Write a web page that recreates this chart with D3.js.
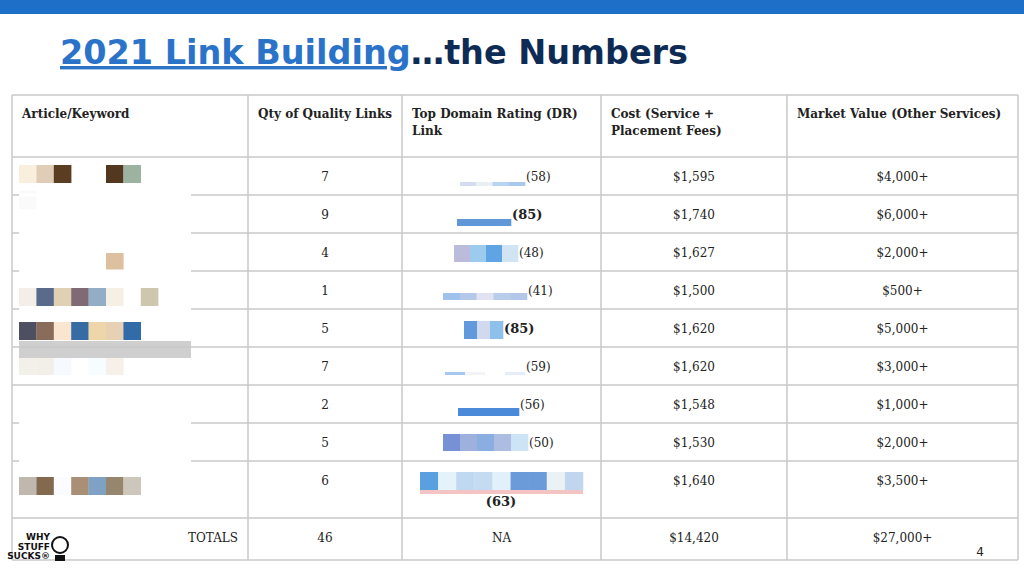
<!DOCTYPE html>
<html><head><meta charset="utf-8">
<script src="https://cdn.jsdelivr.net/npm/d3@7"></script>
<style>body{margin:0;background:#fff}svg{display:block}</style>
</head><body><svg id="c" width="1024" height="571"></svg>
<script>
const headers = ["Article/Keyword","Qty of Quality Links","Top Domain Rating (DR)|Link","Cost (Service +|Placement Fees)","Market Value (Other Services)"];
const qty = [7,9,4,1,5,7,2,5,6];
const dr = [58,85,48,41,85,59,56,50,63];
const drBold = [false,true,false,false,true,false,false,false,true];
const cost = ["$1,595","$1,740","$1,627","$1,500","$1,620","$1,620","$1,548","$1,530","$1,640"];
const market = ["$4,000+","$6,000+","$2,000+","$500+","$5,000+","$3,000+","$1,000+","$2,000+","$3,500+"];
const totals = ["TOTALS","46","NA","$14,420","$27,000+"];
// redaction-like pixel blocks (decorative): [x0, x1, y0, y1, colours]
const drBars = [
 [460,525,182,186,["#d4dcef","#e8f0f4","#b9d3f0","#a9c8ef"]],
 [457,511,219,226,["#5f97d8"]],
 [454,518,245,262,["#bbbcdc","#9ccbee","#61a4e4","#d1e4f4"]],
 [443,527,293,300,["#9fc2ea","#b4c9ea","#e1e3f3","#b8cdea","#b3c7ea"]],
 [464,503,321,339,["#6298dc","#d1d9ee","#8dc0ea"]],
 [445,525,372,375,["#a9c8ef","#f2f4f8","#ffffff","#e3eef8"]],
 [458,519,408,416,["#4a8ad8"]],
 [443,528,434,451,["#7891d6","#9eb0de","#8aaee0","#adbde2","#cce4f6"]],
 [420,583,472,490,["#5aa0e0","#e4f2fa","#c0d8f0","#c4dbf2","#e1f0fa","#6c9bd9","#6c9bd9","#eaf2f4","#c0d6ef"]]
];
const pix = [
 ["#faeedd","#e0cdb7","#5b3d22",null,null,"#53381f","#9bb3a0"],
 ["#fafafa"],
 [null,null,null,null,null,"#dcc0a0"],
 ["#f4eee8","#5a6a8a","#e0d1b4","#806a74","#92aec6","#f6efe4",null,"#cfc6b0"],
 ["#4f4f62","#8a6c5a","#fae6d0","#366ba4","#efd6aa","#e8d0b4","#316ba8"],
 ["#f2f0e8","#f2efe8","#f6faff",null,"#f6fcff","#f6f0e8"],
 [],[],
 ["#c0b8ae","#836a4e","#fbfcff","#a88f76","#7fa2c4","#96866e","#ccc7ba"]
];

const svg = d3.select("#c");
svg.append("rect").attr("x",0).attr("y",0).attr("width",1024).attr("height",14).attr("fill","#1e6fc8");
const title = svg.append("text").attr("x",60).attr("y",64).attr("font-family","'DejaVu Sans', sans-serif").attr("font-size",34).attr("font-weight","bold").attr("textLength",628).attr("lengthAdjust","spacingAndGlyphs");
title.append("tspan").attr("fill","#2a73c9").attr("text-decoration","underline").text("2021 Link Building");
title.append("tspan").attr("fill","#0d2b55").text("…the Numbers");

const colEdges = [12,248,402,601,787,1018];
const rowEdges = [95,157,195,233,271,309,347,385,423,461,518,560];
const font = "'DejaVu Serif','Liberation Serif',serif";
const g = svg.append("g");

const pxScale = d3.scaleLinear().domain([0,1]).range([19,36.4]);
pix.forEach((row,i)=>{
  const ymid = [174,200,262,297,331,366,404,442,486][i];
  row.forEach((c,j)=>{ if(c) g.append("rect").attr("x",pxScale(j)).attr("y",ymid-9).attr("width",17.6).attr("height",18).attr("fill",c); });
});
g.append("rect").attr("x",19).attr("y",341).attr("width",172).attr("height",17).attr("fill","#cfcfcf");

drBars.forEach((b,i)=>{
  const [x0,x1,y0,y1,cols]=b;
  const x = d3.scaleLinear().domain([0,cols.length]).range([x0,x1]);
  cols.forEach((c,j)=>g.append("rect").attr("x",x(j)).attr("y",y0).attr("width",x(j+1)-x(j)+0.3).attr("height",y1-y0).attr("fill",c));
  if(i===8) g.append("rect").attr("x",x0).attr("y",490).attr("width",x1-x0).attr("height",4).attr("fill","#f4c4c4");
});

const line = (x1,y1,x2,y2)=>g.append("line").attr("x1",x1).attr("y1",y1).attr("x2",x2).attr("y2",y2).attr("stroke","#c8c8c8").attr("stroke-width",1.5);
rowEdges.forEach(y=>line(colEdges[0],y,colEdges[5],y));
colEdges.forEach(x=>line(x,rowEdges[0],x,rowEdges[rowEdges.length-1]));
[195,233,271,309,423,461].forEach(y=>g.append("rect").attr("x",19).attr("y",y-1.5).attr("width",172).attr("height",3).attr("fill","#fff"));

headers.forEach((h,i)=>{
  h.split("|").forEach((t,k)=>g.append("text").attr("x",colEdges[i]+10).attr("y",118+k*17)
   .attr("font-family",font).attr("font-size",12).attr("font-weight","bold").attr("fill","#222").text(t));
});
const txt=(x,y,t,bold,anchor="middle")=>g.append("text").attr("x",x).attr("y",y).attr("text-anchor",anchor)
  .attr("font-family",font).attr("font-size",bold?13:12).attr("font-weight",bold?"bold":"normal").attr("fill","#222").text(t);
const cx = i=>(colEdges[i]+colEdges[i+1])/2;
qty.forEach((q,i)=>{
  const yc = i===8 ? 485 : (rowEdges[i+1]+rowEdges[i+2])/2+5;
  txt(cx(1),yc,q);
  txt(cx(3),yc,cost[i]);
  txt(cx(4),yc,market[i]);
  const b=drBars[i];
  if(i===8) txt(501,506,`(${dr[i]})`,true);
  else txt(b[1]+1,yc,`(${dr[i]})`,drBold[i],"start");
});
txt(238,542,totals[0],false,"end");
[1,2,3,4].forEach(i=>txt(cx(i),542,totals[i]));
g.append("text").attr("x",980).attr("y",556).attr("font-family","'DejaVu Sans',sans-serif").attr("font-size",12).attr("fill","#222").attr("text-anchor","middle").text("4");

const lg = svg.append("g").attr("font-family","'DejaVu Sans',sans-serif").attr("font-weight","bold").attr("font-size",9).attr("fill","#111").attr("text-anchor","end");
["WHY","STUFF","SUCKS®"].forEach((t,i)=>lg.append("text").attr("x",50).attr("y",540+i*9.5).text(t));
svg.append("circle").attr("cx",60).attr("cy",545).attr("r",8).attr("fill","none").attr("stroke","#111").attr("stroke-width",2);
svg.append("rect").attr("x",55).attr("y",555).attr("width",10).attr("height",6).attr("fill","#111");
</script></body></html>
